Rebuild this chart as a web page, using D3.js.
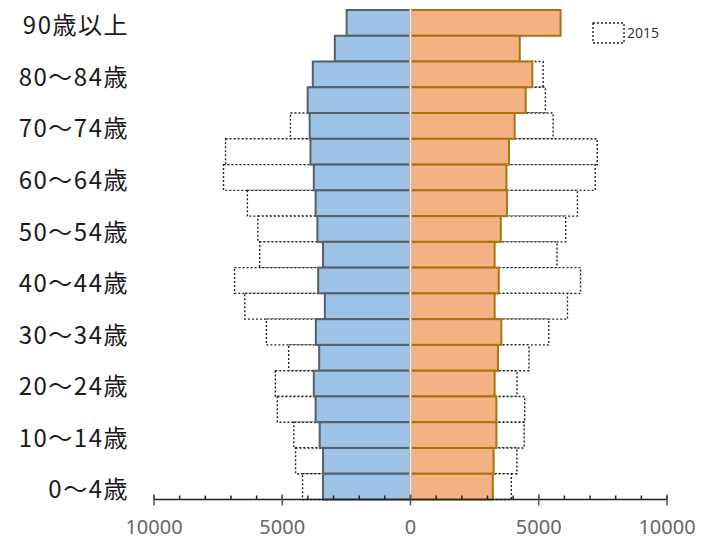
<!DOCTYPE html>
<html>
<head>
<meta charset="utf-8">
<script src="https://cdn.jsdelivr.net/npm/d3@7"></script>
<style>
  body { margin: 0; background: #fff; }
  svg { display: block; }
</style>
</head>
<body>
<div id="chart"></div>
<script>
// age groups, top row first
var ages = ["90歳以上", "85〜89歳", "80〜84歳", "75〜79歳", "70〜74歳", "65〜69歳",
            "60〜64歳", "55〜59歳", "50〜54歳", "45〜49歳", "40〜44歳", "35〜39歳",
            "30〜34歳", "25〜29歳", "20〜24歳", "15〜19歳", "10〜14歳", "5〜9歳", "0〜4歳"];
var shownLabels = ["90歳以上", "80〜84歳", "70〜74歳", "60〜64歳", "50〜54歳",
                   "40〜44歳", "30〜34歳", "20〜24歳", "10〜14歳", "0〜4歳"];

// current population (left = male, right = female)
var male = [2490, 2950, 3810, 4010, 3930, 3900, 3770, 3700, 3630, 3410,
            3600, 3340, 3690, 3560, 3770, 3700, 3540, 3410, 3410];
var female = [5850, 4260, 4750, 4490, 4060, 3840, 3740, 3760, 3520, 3280,
              3440, 3280, 3540, 3410, 3280, 3350, 3350, 3240, 3210];

// 2015 population (dotted outlines)
var male2015 = [1800, 2300, 3400, 3950, 4680, 7210, 7290, 6360, 5950, 5880,
                6860, 6460, 5620, 4750, 5270, 5190, 4550, 4480, 4210];
var female2015 = [4500, 3600, 5170, 5260, 5560, 7280, 7200, 6510, 6050, 5710,
                  6630, 6120, 5390, 4620, 4150, 4450, 4430, 4150, 3930];

var xTicks = [-10000, -5000, 0, 5000, 10000];
var legendLabel = "2015";

var width = 716, height = 538;

var svg = d3.select("#chart")
  .append("svg")
  .attr("width", width)
  .attr("height", height);

var x = d3.scaleLinear().domain([-10000, 10000]).range([154, 667]);
var y = d3.scaleBand().domain(ages).range([10, 499.5]).padding(0);

// 2015 outlines go underneath
var old = svg.append("g");
old.selectAll(".m15")
  .data(ages)
  .enter().append("rect")
  .attr("x", function(d, i) { return x(-male2015[i]); })
  .attr("y", function(d) { return y(d); })
  .attr("width", function(d, i) { return x(0) - x(-male2015[i]); })
  .attr("height", y.bandwidth())
  .attr("fill", "#fff")
  .attr("stroke", "#222")
  .attr("stroke-width", 1.4)
  .attr("stroke-dasharray", "2,2");
old.selectAll(".f15")
  .data(ages)
  .enter().append("rect")
  .attr("x", x(0))
  .attr("y", function(d) { return y(d); })
  .attr("width", function(d, i) { return x(female2015[i]) - x(0); })
  .attr("height", y.bandwidth())
  .attr("fill", "#fff")
  .attr("stroke", "#222")
  .attr("stroke-width", 1.4)
  .attr("stroke-dasharray", "2,2");

// current bars
svg.selectAll(".male")
  .data(ages)
  .enter().append("rect")
  .attr("x", function(d, i) { return x(-male[i]); })
  .attr("y", function(d) { return y(d); })
  .attr("width", function(d, i) { return x(0) - x(-male[i]); })
  .attr("height", y.bandwidth())
  .attr("fill", "#9dc3e6")
  .attr("stroke", "#55606b")
  .attr("stroke-width", 2);

svg.selectAll(".female")
  .data(ages)
  .enter().append("rect")
  .attr("x", x(0))
  .attr("y", function(d) { return y(d); })
  .attr("width", function(d, i) { return x(female[i]) - x(0); })
  .attr("height", y.bandwidth())
  .attr("fill", "#f4b183")
  .attr("stroke", "#a8740f")
  .attr("stroke-width", 2);

// light centre line
svg.append("line")
  .attr("x1", x(0)).attr("x2", x(0))
  .attr("y1", y.range()[0] - 1).attr("y2", y.range()[1])
  .attr("stroke", "#e4ecf2")
  .attr("stroke-width", 2);

// x axis
var axisY = 499.5;
var axis = svg.append("g").attr("transform", "translate(0," + axisY + ")");
axis.append("line")
  .attr("x1", x(-10000)).attr("x2", x(10000))
  .attr("stroke", "#222").attr("stroke-width", 1.5);
axis.selectAll(".minor")
  .data(d3.range(-10000, 10001, 1000))
  .enter().append("line")
  .attr("x1", function(d) { return x(d); })
  .attr("x2", function(d) { return x(d); })
  .attr("y1", -4).attr("y2", 0)
  .attr("stroke", "#222").attr("stroke-width", 1.5);
axis.selectAll(".major")
  .data(xTicks)
  .enter().append("line")
  .attr("x1", function(d) { return x(d); })
  .attr("x2", function(d) { return x(d); })
  .attr("y1", -5).attr("y2", 6)
  .attr("stroke", "#555").attr("stroke-width", 1.5);
axis.selectAll(".tl")
  .data(xTicks)
  .enter().append("text")
  .attr("x", function(d) { return x(d); })
  .attr("y", 34)
  .attr("text-anchor", "middle")
  .attr("font-family", "'Noto Sans', 'Open Sans', sans-serif")
  .attr("font-size", 20)
  .attr("fill", "#666")
  .text(function(d) { return Math.abs(d); });

// y labels
svg.selectAll(".ylab")
  .data(shownLabels)
  .enter().append("text")
  .attr("x", 129)
  .attr("y", function(d) { return y(d) + y.bandwidth() / 2 + 5; })
  .attr("text-anchor", "end")
  .attr("dominant-baseline", "middle")
  .attr("font-family", "'Noto Sans CJK JP', 'Noto Sans', sans-serif")
  .attr("font-size", 24)
  .attr("letter-spacing", 1.5)
  .attr("fill", "#1a1a1a")
  .text(function(d) { return d; });

// legend
var lg = svg.append("g");
lg.append("rect")
  .attr("x", 593).attr("y", 23)
  .attr("width", 31).attr("height", 20)
  .attr("fill", "#fff")
  .attr("stroke", "#222")
  .attr("stroke-width", 1.4)
  .attr("stroke-dasharray", "2,2");
lg.append("text")
  .attr("x", 627).attr("y", 38)
  .attr("font-family", "'Open Sans', 'Noto Sans', sans-serif")
  .attr("font-size", 14)
  .attr("fill", "#3b2a1e")
  .text(legendLabel);
</script>
</body>
</html>
